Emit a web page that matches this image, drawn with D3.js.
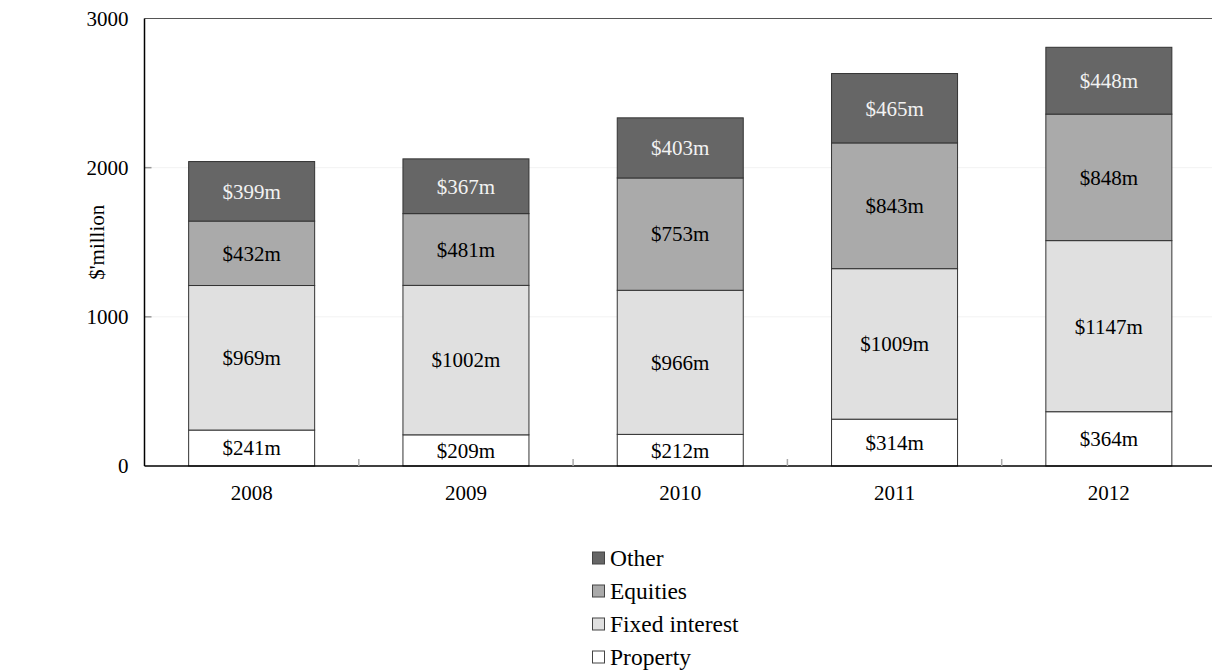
<!DOCTYPE html>
<html>
<head>
<meta charset="utf-8">
<script src="https://cdn.jsdelivr.net/npm/d3@7"></script>
<style>
  html, body { margin: 0; padding: 0; background: #fff; }
  svg { display: block; font-family: "Liberation Serif", "Times New Roman", serif; }
</style>
</head>
<body>
<svg id="chart" width="1212" height="671"></svg>
<script>
// Funds under management by asset class, $ million
const years = ["2008", "2009", "2010", "2011", "2012"];
const property = [241, 209, 212, 314, 364];
const fixedInterest = [969, 1002, 966, 1009, 1147];
const equities = [432, 481, 753, 843, 848];
const other = [399, 367, 403, 465, 448];
const yTicks = [0, 1000, 2000, 3000];

// Stack order from the bottom up
const series = [
  { name: "Property", values: property, fill: "#ffffff", text: "#000000" },
  { name: "Fixed interest", values: fixedInterest, fill: "#e0e0e0", text: "#000000" },
  { name: "Equities", values: equities, fill: "#aaaaaa", text: "#000000" },
  { name: "Other", values: other, fill: "#666666", text: "#f2f2f2" }
];

const svg = d3.select("#chart");
const plotLeft = 144.5, plotRight = 1216, plotTop = 18.5, plotBottom = 466;

const x = d3.scaleBand().domain(years).range([plotLeft, plotRight]).paddingInner(0.412).paddingOuter(0.206);
const y = d3.scaleLinear().domain([0, 3000]).range([plotBottom, plotTop]);

// faint horizontal gridlines
svg.append("g").selectAll("line").data(yTicks.filter(d => d > 0 && d < 3000)).join("line")
  .attr("x1", plotLeft).attr("x2", 1212)
  .attr("y1", d => y(d)).attr("y2", d => y(d))
  .attr("stroke", "#f2f2f2").attr("stroke-width", 1);

// top frame line
svg.append("line").attr("x1", plotLeft).attr("x2", 1212).attr("y1", y(3000)).attr("y2", y(3000))
  .attr("stroke", "#555").attr("stroke-width", 1);

// y axis: labels on the left, short ticks pointing inward
const yAxis = svg.append("g").attr("transform", `translate(${plotLeft},0)`)
  .call(d3.axisLeft(y).tickValues(yTicks).tickSize(0).tickPadding(16).tickFormat(d3.format("d")));
yAxis.select(".domain").remove();
yAxis.selectAll("text").attr("font-size", 21).attr("fill", "#000")
  .attr("font-family", "Liberation Serif, Times New Roman, serif");
svg.append("g").selectAll("line").data(yTicks.filter(d => d > 0 && d < 3000)).join("line")
  .attr("x1", plotLeft).attr("x2", plotLeft + 7)
  .attr("y1", d => y(d)).attr("y2", d => y(d))
  .attr("stroke", "#999").attr("stroke-width", 1.5);

// stacked bars
const stackData = years.map((yr, i) => {
  const row = { year: yr };
  series.forEach(s => { row[s.name] = s.values[i]; });
  return row;
});
const stacked = d3.stack().keys(series.map(s => s.name))(stackData);

stacked.forEach((layer, li) => {
  const s = series[li];
  const g = svg.append("g");
  g.selectAll("rect").data(layer).join("rect")
    .attr("x", d => x(d.data.year))
    .attr("width", x.bandwidth())
    .attr("y", d => y(d[1]))
    .attr("height", d => y(d[0]) - y(d[1]))
    .attr("fill", s.fill)
    .attr("stroke", "#333").attr("stroke-width", 1);
  g.selectAll("text").data(layer).join("text")
    .attr("x", d => x(d.data.year) + x.bandwidth() / 2)
    .attr("y", d => (y(d[0]) + y(d[1])) / 2)
    .attr("dy", "0.35em")
    .attr("text-anchor", "middle")
    .attr("font-size", 21)
    .attr("fill", s.text)
    .text(d => "$" + (d[1] - d[0]) + "m");
});

// x axis: baseline, category labels, short inward ticks between bars
svg.append("line").attr("x1", plotLeft).attr("x2", 1212).attr("y1", plotBottom).attr("y2", plotBottom)
  .attr("stroke", "#000").attr("stroke-width", 1.5);
const step = x.step();
svg.append("g").selectAll("line").data(years.slice(1)).join("line")
  .attr("x1", d => x(d) - x.paddingInner() * step / 2)
  .attr("x2", d => x(d) - x.paddingInner() * step / 2)
  .attr("y1", plotBottom).attr("y2", plotBottom - 7)
  .attr("stroke", "#aaa").attr("stroke-width", 1.5);
svg.append("g").selectAll("text").data(years).join("text")
  .attr("x", d => x(d) + x.bandwidth() / 2)
  .attr("y", 500)
  .attr("text-anchor", "middle")
  .attr("font-size", 21)
  .text(d => d);

// left axis line
svg.append("line").attr("x1", plotLeft).attr("x2", plotLeft).attr("y1", plotTop).attr("y2", plotBottom)
  .attr("stroke", "#000").attr("stroke-width", 1.5);

// y axis title
svg.append("text")
  .attr("transform", `translate(104,${(plotTop + plotBottom) / 2}) rotate(-90)`)
  .attr("text-anchor", "middle")
  .attr("font-size", 21)
  .text("$'million");

// legend, top of stack listed first
const legendItems = series.slice().reverse();
const legend = svg.append("g").attr("transform", "translate(592,0)");
legend.selectAll("rect").data(legendItems).join("rect")
  .attr("x", 0.5).attr("y", (d, i) => 552 + i * 33)
  .attr("width", 12).attr("height", 12)
  .attr("fill", d => d.fill).attr("stroke", "#444").attr("stroke-width", 1);
legend.selectAll("text").data(legendItems).join("text")
  .attr("x", 18).attr("y", (d, i) => 558 + i * 33)
  .attr("dy", "0.35em")
  .attr("font-size", 23.5)
  .text(d => d.name);
</script>
</body>
</html>
